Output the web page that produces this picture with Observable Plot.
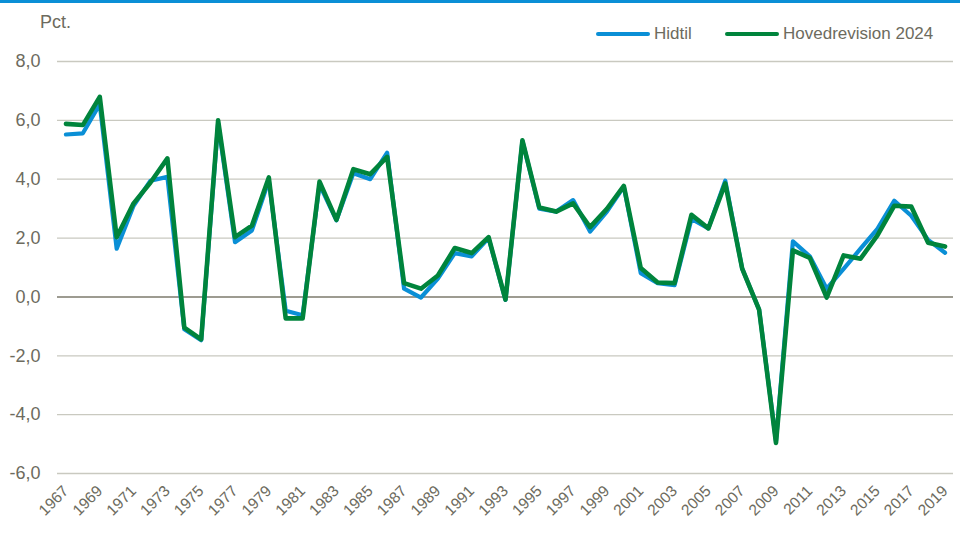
<!DOCTYPE html>
<html>
<head>
<meta charset="utf-8">
<script src="https://cdn.jsdelivr.net/npm/d3@7"></script>
<script src="https://cdn.jsdelivr.net/npm/@observablehq/plot@0.6"></script>
<style>
  html, body { margin: 0; padding: 0; background: #fff; }
  #wrap { position: relative; width: 960px; height: 540px; overflow: hidden; font-family: "Liberation Sans", Arial, sans-serif; color: #6d6b5e; }
  #topbar { position: absolute; left: 0; top: 0; width: 960px; height: 3px; background: #0a8fd6; }
  #unit { position: absolute; left: 40px; top: 12px; font-size: 18px; }
  .leg { position: absolute; top: 24px; font-size: 17px; display: flex; align-items: center; }
  .sw { width: 54px; height: 4px; border-radius: 2px; margin-right: 4px; }
  #chart { position: absolute; left: 0; top: 0; }
</style>
</head>
<body>
<div id="wrap">
  <div id="chart"></div>
  <div id="topbar"></div>
  <div id="unit">Pct.</div>
  <div class="leg" style="left:596px"><div class="sw" style="background:#0a8fd6"></div><span>Hidtil</span></div>
  <div class="leg" style="left:725px"><div class="sw" style="background:#00843c"></div><span>Hovedrevision 2024</span></div>
</div>
<script>
const years = [1967,1968,1969,1970,1971,1972,1973,1974,1975,1976,1977,1978,1979,1980,1981,1982,1983,1984,1985,1986,1987,1988,1989,1990,1991,1992,1993,1994,1995,1996,1997,1998,1999,2000,2001,2002,2003,2004,2005,2006,2007,2008,2009,2010,2011,2012,2013,2014,2015,2016,2017,2018,2019];
const hidtil = [5.52,5.56,6.55,1.64,3.10,3.95,4.08,-1.10,-1.47,5.90,1.86,2.26,3.95,-0.47,-0.62,3.82,2.60,4.20,4.00,4.90,0.28,-0.02,0.62,1.49,1.38,2.00,-0.10,5.30,3.00,2.90,3.29,2.22,2.90,3.75,0.81,0.47,0.40,2.65,2.33,3.95,0.96,-0.43,-4.90,1.89,1.38,0.28,0.95,1.64,2.31,3.27,2.76,1.94,1.50];
const hovedrevision = [5.88,5.84,6.80,2.03,3.18,3.89,4.71,-1.04,-1.44,6.00,2.03,2.42,4.06,-0.73,-0.73,3.92,2.62,4.34,4.17,4.76,0.47,0.28,0.73,1.66,1.49,2.03,-0.09,5.32,3.04,2.90,3.18,2.37,2.99,3.77,0.98,0.49,0.47,2.79,2.33,3.86,0.96,-0.43,-4.96,1.58,1.33,-0.02,1.41,1.30,2.09,3.10,3.07,1.84,1.71];
const yTicks = [-6,-4,-2,0,2,4,6,8];
const xTicks = [1967,1969,1971,1973,1975,1977,1979,1981,1983,1985,1987,1989,1991,1993,1995,1997,1999,2001,2003,2005,2007,2009,2011,2013,2015,2017,2019];

const dataH = years.map((y, i) => ({year: y, v: hidtil[i]}));
const dataG = years.map((y, i) => ({year: y, v: hovedrevision[i]}));

const textColor = "#6d6b5e";
const chart = Plot.plot({
  width: 960,
  height: 540,
  marginTop: 61,
  marginBottom: 67,
  marginLeft: 57,
  marginRight: 7,
  style: {fontFamily: "'Liberation Sans', Arial, sans-serif", color: textColor, background: "transparent"},
  x: {type: "linear", domain: [1966.5, 2019.5]},
  y: {domain: [-6, 8]},
  marks: [
    Plot.gridY(yTicks.filter(d => d !== 0), {stroke: "#c9c9c0", strokeOpacity: 1, strokeWidth: 1.3}),
    Plot.ruleY([0], {stroke: "#7c7a6c", strokeWidth: 1.6}),
    Plot.axisY({ticks: yTicks, tickSize: 0, tickPadding: 17, fontSize: 18, tickFormat: d => d.toFixed(1).replace(".", ","), label: null}),
    Plot.axisX({ticks: xTicks, tickSize: 0, tickPadding: 15, tickRotate: -45, fontSize: 15.5, tickFormat: d => String(d), label: null}),
    Plot.lineY(dataH, {x: "year", y: "v", stroke: "#0a8fd6", strokeWidth: 4.2, strokeLinejoin: "round", strokeLinecap: "round"}),
    Plot.lineY(dataG, {x: "year", y: "v", stroke: "#00843c", strokeWidth: 4.6, strokeLinejoin: "round", strokeLinecap: "round"})
  ]
});
document.getElementById("chart").appendChild(chart);
</script>
</body>
</html>
